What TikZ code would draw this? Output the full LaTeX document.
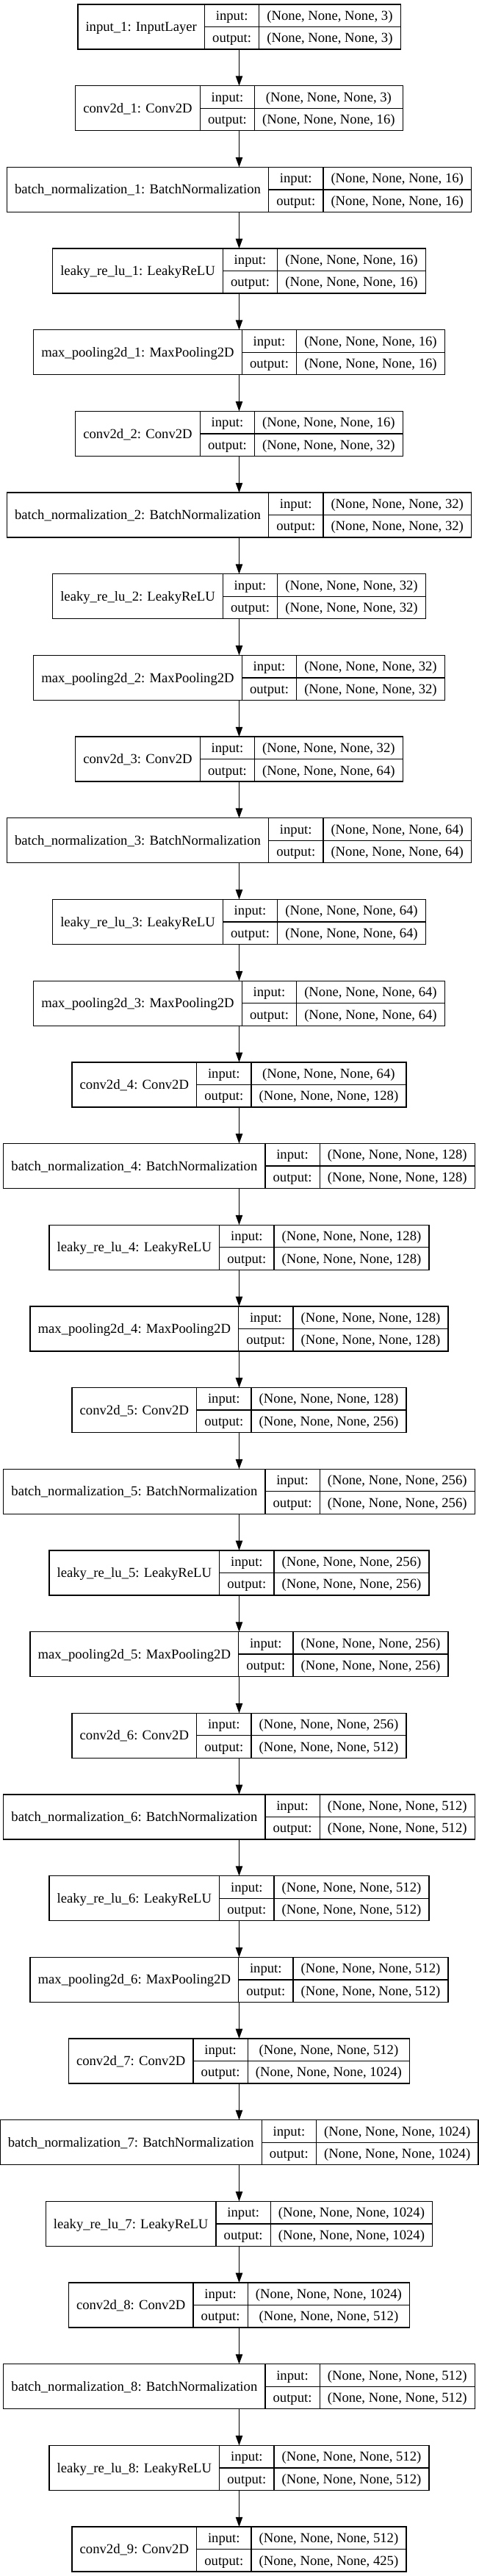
\documentclass[tikz,border=0pt]{standalone}
\usepackage{fontspec}
\setmainfont{Liberation Serif}
\usetikzlibrary{arrows.meta}
\newcommand\labfont{\fontsize{14}{16.8}\selectfont}
\newdimen\dimA \newdimen\dimB \newdimen\dimC \newdimen\dimD
\tikzset{
  layerbox/.style={draw=black, line width=1pt, inner sep=0pt, outer sep=0pt, minimum height=45.75pt},
  divider/.style={draw=black, line width=1pt},
  lbl/.style={anchor=base, inner sep=0pt, font=\labfont},
  conn/.style={draw=black, line width=1pt, -{Triangle[length=10pt,width=7pt]}}
}
% store data and widths (measured outside the picture)
\newcommand\layerdata[4]{%
  \setbox0=\hbox{\labfont #2}\dimA=\wd0
  \setbox0=\hbox{\labfont output:}\dimB=\wd0
  \setbox0=\hbox{\labfont #3}\dimC=\wd0
  \setbox0=\hbox{\labfont #4}\dimD=\wd0
  \ifdim\dimD>\dimC \dimC=\dimD\fi
  \expandafter\gdef\csname lab@#1\endcsname{#2}%
  \expandafter\gdef\csname in@#1\endcsname{#3}%
  \expandafter\gdef\csname out@#1\endcsname{#4}%
  \expandafter\xdef\csname wA@#1\endcsname{\strip@pt\dimA}%
  \expandafter\xdef\csname wB@#1\endcsname{\strip@pt\dimB}%
  \expandafter\xdef\csname wC@#1\endcsname{\strip@pt\dimC}%
}
\makeatletter
\let\mystrip\strip@pt
\makeatother
\renewcommand\layerdata[4]{%
  \setbox0=\hbox{\labfont #2}\dimA=\wd0
  \setbox0=\hbox{\labfont output:}\dimB=\wd0
  \setbox0=\hbox{\labfont #3}\dimC=\wd0
  \setbox0=\hbox{\labfont #4}\dimD=\wd0
  \ifdim\dimD>\dimC \dimC=\dimD\fi
  \expandafter\gdef\csname lab@#1\endcsname{#2}%
  \expandafter\gdef\csname in@#1\endcsname{#3}%
  \expandafter\gdef\csname out@#1\endcsname{#4}%
  \expandafter\xdef\csname wA@#1\endcsname{\mystrip\dimA}%
  \expandafter\xdef\csname wB@#1\endcsname{\mystrip\dimB}%
  \expandafter\xdef\csname wC@#1\endcsname{\mystrip\dimC}%
}
\newcommand\mklayer[2]{%
  \pgfmathsetmacro\wA{\csname wA@#2\endcsname+16}%
  \pgfmathsetmacro\wB{\csname wB@#2\endcsname+16}%
  \pgfmathsetmacro\wC{\csname wC@#2\endcsname+16}%
  \pgfmathsetmacro\tot{\wA+\wB+\wC}%
  \pgfmathsetmacro\xl{244.125-\tot/2}%
  \pgfmathsetmacro\yt{-4.5-83.01*#2}%
  \node[layerbox, minimum width=\tot pt, anchor=north west] (#1) at (\xl pt,\yt pt) {};
  \draw[divider] ([xshift=\wA pt]#1.north west) -- ([xshift=\wA pt]#1.south west);
  \draw[divider] ([xshift=\wA pt+\wB pt]#1.north west) -- ([xshift=\wA pt+\wB pt]#1.south west);
  \draw[divider] ([xshift=\wA pt]#1.west) -- (#1.east);
  \node[lbl] (#1-name) at ([xshift=\wA pt/2, yshift=-4.6pt]#1.west) {\csname lab@#2\endcsname};
  \node[lbl] (#1-in) at ([xshift=\wA pt+\wB pt/2, yshift=-16.04pt]#1.north west) {input:};
  \node[lbl] (#1-out) at ([xshift=\wA pt+\wB pt/2, yshift=-38.91pt]#1.north west) {output:};
  \node[lbl] (#1-ins) at ([xshift=\wA pt+\wB pt+\wC pt/2, yshift=-16.04pt]#1.north west) {\csname in@#2\endcsname};
  \node[lbl] (#1-outs) at ([xshift=\wA pt+\wB pt+\wC pt/2, yshift=-38.91pt]#1.north west) {\csname out@#2\endcsname};
}
\begin{document}
\layerdata{0}{input\_1: InputLayer}{(None, None, None, 3)}{(None, None, None, 3)}
\layerdata{1}{conv2d\_1: Conv2D}{(None, None, None, 3)}{(None, None, None, 16)}
\layerdata{2}{batch\_normalization\_1: BatchNormalization}{(None, None, None, 16)}{(None, None, None, 16)}
\layerdata{3}{leaky\_re\_lu\_1: LeakyReLU}{(None, None, None, 16)}{(None, None, None, 16)}
\layerdata{4}{max\_pooling2d\_1: MaxPooling2D}{(None, None, None, 16)}{(None, None, None, 16)}
\layerdata{5}{conv2d\_2: Conv2D}{(None, None, None, 16)}{(None, None, None, 32)}
\layerdata{6}{batch\_normalization\_2: BatchNormalization}{(None, None, None, 32)}{(None, None, None, 32)}
\layerdata{7}{leaky\_re\_lu\_2: LeakyReLU}{(None, None, None, 32)}{(None, None, None, 32)}
\layerdata{8}{max\_pooling2d\_2: MaxPooling2D}{(None, None, None, 32)}{(None, None, None, 32)}
\layerdata{9}{conv2d\_3: Conv2D}{(None, None, None, 32)}{(None, None, None, 64)}
\layerdata{10}{batch\_normalization\_3: BatchNormalization}{(None, None, None, 64)}{(None, None, None, 64)}
\layerdata{11}{leaky\_re\_lu\_3: LeakyReLU}{(None, None, None, 64)}{(None, None, None, 64)}
\layerdata{12}{max\_pooling2d\_3: MaxPooling2D}{(None, None, None, 64)}{(None, None, None, 64)}
\layerdata{13}{conv2d\_4: Conv2D}{(None, None, None, 64)}{(None, None, None, 128)}
\layerdata{14}{batch\_normalization\_4: BatchNormalization}{(None, None, None, 128)}{(None, None, None, 128)}
\layerdata{15}{leaky\_re\_lu\_4: LeakyReLU}{(None, None, None, 128)}{(None, None, None, 128)}
\layerdata{16}{max\_pooling2d\_4: MaxPooling2D}{(None, None, None, 128)}{(None, None, None, 128)}
\layerdata{17}{conv2d\_5: Conv2D}{(None, None, None, 128)}{(None, None, None, 256)}
\layerdata{18}{batch\_normalization\_5: BatchNormalization}{(None, None, None, 256)}{(None, None, None, 256)}
\layerdata{19}{leaky\_re\_lu\_5: LeakyReLU}{(None, None, None, 256)}{(None, None, None, 256)}
\layerdata{20}{max\_pooling2d\_5: MaxPooling2D}{(None, None, None, 256)}{(None, None, None, 256)}
\layerdata{21}{conv2d\_6: Conv2D}{(None, None, None, 256)}{(None, None, None, 512)}
\layerdata{22}{batch\_normalization\_6: BatchNormalization}{(None, None, None, 512)}{(None, None, None, 512)}
\layerdata{23}{leaky\_re\_lu\_6: LeakyReLU}{(None, None, None, 512)}{(None, None, None, 512)}
\layerdata{24}{max\_pooling2d\_6: MaxPooling2D}{(None, None, None, 512)}{(None, None, None, 512)}
\layerdata{25}{conv2d\_7: Conv2D}{(None, None, None, 512)}{(None, None, None, 1024)}
\layerdata{26}{batch\_normalization\_7: BatchNormalization}{(None, None, None, 1024)}{(None, None, None, 1024)}
\layerdata{27}{leaky\_re\_lu\_7: LeakyReLU}{(None, None, None, 1024)}{(None, None, None, 1024)}
\layerdata{28}{conv2d\_8: Conv2D}{(None, None, None, 1024)}{(None, None, None, 512)}
\layerdata{29}{batch\_normalization\_8: BatchNormalization}{(None, None, None, 512)}{(None, None, None, 512)}
\layerdata{30}{leaky\_re\_lu\_8: LeakyReLU}{(None, None, None, 512)}{(None, None, None, 512)}
\layerdata{31}{conv2d\_9: Conv2D}{(None, None, None, 512)}{(None, None, None, 425)}%
\begin{tikzpicture}
\fill[white] (0,0) rectangle (489pt,-2628pt);
\useasboundingbox (0,0) rectangle (489pt,-2628pt);
\foreach \k in {0,...,31} {
  \mklayer{L\k}{\k}
}
\foreach \i [evaluate=\i as \j using int(\i+1)] in {0,...,30} {
  \draw[conn] (L\i.south) -- (L\j.north);
}
\end{tikzpicture}
\end{document}
